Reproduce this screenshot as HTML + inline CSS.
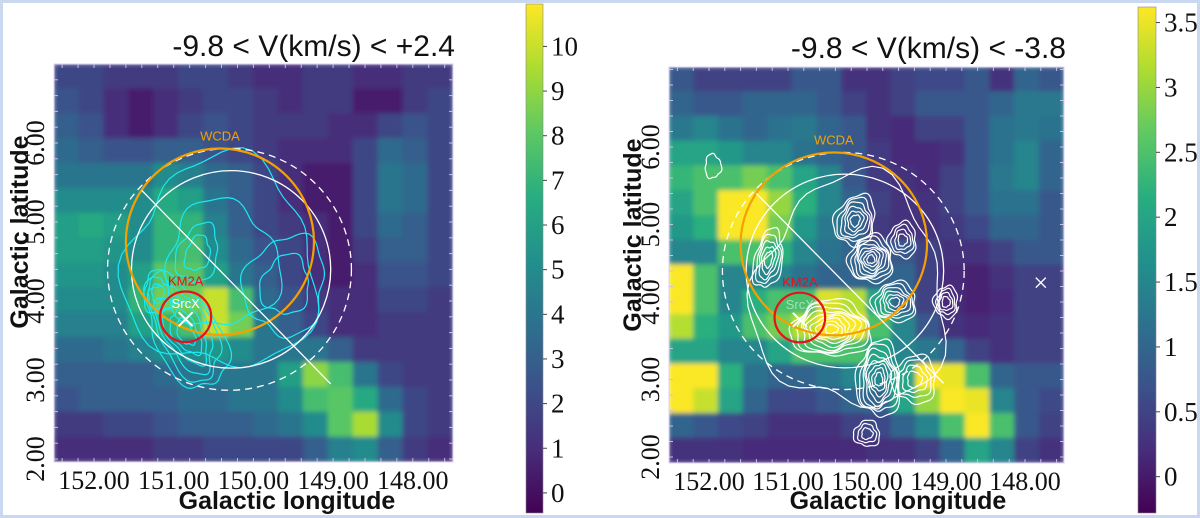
<!DOCTYPE html>
<html><head><meta charset="utf-8">
<style>
html,body{margin:0;padding:0;}
body{width:1200px;height:518px;overflow:hidden;background:#fff;}
svg{display:block;}
</style></head>
<body>
<svg id="fig" width="1200" height="518" viewBox="0 0 1200 518">
<defs>
<filter id="soft" x="0" y="0" width="1" height="1"><feGaussianBlur stdDeviation="2.5" edgeMode="duplicate"/></filter>
<clipPath id="clipL"><rect x="54" y="64" width="399" height="398"/></clipPath>
<clipPath id="clipR"><rect x="669" y="67" width="395" height="396"/></clipPath>
<linearGradient id="vir" x1="0" y1="1" x2="0" y2="0">
<stop offset="0" stop-color="#440154"/><stop offset="0.125" stop-color="#472d7b"/><stop offset="0.25" stop-color="#3b528b"/><stop offset="0.375" stop-color="#2c728e"/><stop offset="0.5" stop-color="#21918c"/><stop offset="0.625" stop-color="#28ae80"/><stop offset="0.75" stop-color="#5ec962"/><stop offset="0.875" stop-color="#addc30"/><stop offset="1" stop-color="#fde725"/>
</linearGradient>
</defs>
<rect x="0" y="0" width="1200" height="518" fill="none" stroke="#c9d8ee" stroke-width="6"/>
<g id="L"></g>
<g id="R"></g>
</svg>
<script>
const leftGrid = [
[2,2,1.5,1.5,1.5,2,2,1.5,1,1,1.5,1.5,1,1,1.5,1.5],
[2.5,2,1,0.5,1,1.5,2,2,1.5,1,1.5,1.5,0.5,0.5,1.5,2],
[3,2.5,1,0.5,1,2,2.5,2,1.5,1.5,1.5,1,1,2,2.5,2],
[3.5,3,2.5,2.5,3,3,2.5,2,1.5,1,1,1,2,3.5,3,2],
[4,4,4,4,5,4.5,3.5,3,2,1,0.5,0.5,2,4,3.5,2],
[5,5,5,5,6.5,6,4,3,2,1,0.5,0.5,2,4,3.5,2],
[6,6.5,6,5,7,7,4.5,3,2,1.5,1,0.5,2,3.5,3,2],
[6,6,5.5,5,7,7.5,5,3.5,2.5,2,1,0.5,1.5,3,3,2],
[5.5,5.5,5,6,8,8,6,4,3,2,1,0.5,1,2.5,2.5,2],
[5,5,5,7,8.5,8.5,10,7.5,3.5,2.5,1.5,1,1,2,2,1.5],
[4.5,4.5,4.5,6,7,7.5,10,8.5,4,3,2,1,1,1.5,1.5,1.5],
[3.5,3.5,4,4.5,5,5,5.5,5,4,4,4,3,1.5,1.5,1.5,1.5],
[3,3,3,3,3.5,4,4,4,4,6,9,7.5,4,2,1.5,1.5],
[2.5,3,3,3,3,3.5,3.5,4,4,5,7.5,8,6.5,3.5,2,1.5],
[1.5,1.5,2,2,2.5,3,3,3,3.5,4,5,8,9.5,5,2,1.5],
[1,1,1,1,1.5,1.5,2,2,2,2,3,4.5,5,3,1.5,1]];
const rightGrid = [
[0.8,0.5,0.5,0.5,0.5,0.8,0.8,0.3,0.3,0.5,0.6,0.6,0.8,0.3,1,0.8],
[1,0.8,0.8,1,1,1,0.8,0.5,0.3,0.5,0.8,0.8,0.8,1,1.3,1.3],
[1.3,1.5,1.2,1,1.2,1.3,1,0.8,0.3,0.2,0.5,0.5,0.8,1.2,1.3,1.2],
[2,2,1.8,1.5,1.5,1.2,1,0.8,0.4,0.2,0.2,0.3,0.8,1.2,1.5,1],
[2.3,2.5,2.5,2.8,2.5,2,1.5,0.8,0.4,0.3,0.2,0.5,0.8,1.3,1.5,1],
[2,2.5,3.6,3.6,3,2.2,1.5,1,0.5,0.3,0.3,0.5,0.8,1.2,1.2,0.8],
[1.8,2.2,3.6,3.6,2.8,1.8,1.3,1,0.4,0.3,0.3,0.4,0.6,1,1,0.8],
[1.5,1.5,2.5,2.5,2.2,1.5,1.2,1,0.8,0.8,0.5,0.3,0.3,0.5,0.8,0.8],
[3.6,2.5,1.5,1.5,1.5,1.2,1,1,1,1,0.5,0.2,0.1,0.3,0.5,0.5],
[3.6,2.5,1.5,2.2,2.5,2.5,3.4,3.2,2,1,0.5,0.2,0.1,0.2,0.5,0.5],
[3.2,2.2,1.8,2.5,2.8,3.2,3.6,3.6,2.5,1.5,0.8,0.3,0.2,0.3,0.5,0.5],
[2,2,1.5,1.5,2,2.5,2.5,2.5,2,1.5,1.3,1,0.5,0.3,0.5,0.5],
[3.6,3.6,2.2,1.2,1,1,1.2,1.5,1.5,2,3.6,3.5,2.5,1,0.8,0.8],
[3.6,3.3,2,1,0.6,0.6,0.8,1,1,2,3,3.6,3.5,1.5,0.8,0.6],
[1,0.8,0.6,0.5,0.3,0.3,0.3,0.5,0.6,1,1.5,2.5,3.6,2.5,0.8,0.5],
[0.3,0.3,0.3,0.2,0.2,0.2,0.2,0.2,0.3,0.3,0.5,1,2,1.5,0.5,0.3]];
const lonTicks = [152,151,150,149,148];
const latTicks = [6,5,4,3,2];
const leftCbTicks = [0,1,2,3,4,5,6,7,8,9,10];
const rightCbTicks = [0,0.5,1,1.5,2,2.5,3,3.5];
const leftTitle = "-9.8 < V(km/s) < +2.4";
const rightTitle = "-9.8 < V(km/s) < -3.8";
const wcda = [150.42, 4.75, 1.18];
const km2a = [150.85, 3.80, 0.32];
const innerC = [150.28, 4.40, 1.25];
const outerC = [150.30, 4.40, 1.53];
const srcX = [150.85, 3.77];
const extraX = [147.8, 4.25];
const diag = [[151.4,5.4],[149.03,2.95]];

const SERIF='"Liberation Serif","DejaVu Serif",serif';
const SANS='"Liberation Sans","DejaVu Sans",sans-serif';
const NS="http://www.w3.org/2000/svg";
const vir=[[68,1,84],[71,44,122],[59,81,139],[44,113,142],[33,144,140],[39,173,129],[92,200,99],[170,220,50],[253,231,37]];
function cmap(t){t=Math.max(0,Math.min(1,t));const f=t*8,i=Math.min(7,Math.floor(f)),u=f-i;const a=vir[i],b=vir[i+1];
return `rgb(${a.map((c,k)=>Math.round(c+(b[k]-c)*u)).join(',')})`;}
function el(p,tag,attrs){const e=document.createElementNS(NS,tag);for(const k in attrs)e.setAttribute(k,attrs[k]);p.appendChild(e);return e;}
const TK={'font-family':SERIF,'font-size':26,fill:'#111'};
const AX={'font-family':SANS,'font-weight':'bold','font-size':25,fill:'#111'};

function panel(g,o){
  const X=lon=>o.x0+(152-lon)*o.px, Y=lat=>o.y6+(6-lat)*o.py;
  const hm=el(g,'g',{'clip-path':o.clip});
  
  
  const inner=el(hm,'g',{filter:'url(#soft)'});
  const n=o.grid.length,cw=o.w/n,ch=o.h/n;
  o.grid.forEach((row,r)=>row.forEach((v,c)=>{
    const rc=el(inner,'rect',{x:o.L+c*cw-0.5,y:o.T+r*ch-0.5,width:cw+1,height:ch+1,fill:cmap((v-o.vmin)/(o.vmax-o.vmin))});
    
    
  }));
  const cg=el(hm,'g',{fill:'none',stroke:o.cc,'stroke-width':1.2});
  
  
  o.contours.forEach(([lx,ly,rx,ry,k,rot])=>{
    for(let j=0;j<k;j++){const s=1-j/(k+0.5);let d='';
      for(let a=0;a<=64;a++){const th=a/64*2*Math.PI;const w=1+0.1*Math.sin(3*th+j+lx)+0.05*Math.sin(7*th+ly);
        const px=rx*s*w*Math.cos(th),py=ry*s*w*Math.sin(th);const cr=Math.cos(rot),sr=Math.sin(rot);
        d+=(a?'L':'M')+(X(lx)+px*cr-py*sr).toFixed(1)+','+(Y(ly)+px*sr+py*cr).toFixed(1);}
      el(cg,'path',{d:d+'Z'});}
  });
  const circ=(c,attrs,name)=>{const e=el(hm,'ellipse',Object.assign({cx:X(c[0]),cy:Y(c[1]),rx:c[2]*o.px,ry:c[2]*o.py,fill:'none'},attrs));
    };
  circ(outerC,{stroke:'#fff','stroke-width':1.3,'stroke-dasharray':'7,5'},'outer-dashed-circle');
  circ(innerC,{stroke:'#fff','stroke-width':1.3},'inner-circle');
  circ(wcda,{stroke:'#f5a000','stroke-width':2.2},'wcda-circle');
  circ(km2a,{stroke:'#e8101a','stroke-width':2.2},'km2a-circle');
  const ln=el(hm,'line',{x1:X(diag[0][0]),y1:Y(diag[0][1]),x2:X(diag[1][0]),y2:Y(diag[1][1]),stroke:'#fff','stroke-width':1.3});
  
  const cross=(p,s,w,name)=>{const gx=el(hm,'path',{d:`M${X(p[0])-s},${Y(p[1])-s}L${X(p[0])+s},${Y(p[1])+s}M${X(p[0])-s},${Y(p[1])+s}L${X(p[0])+s},${Y(p[1])-s}`,stroke:'#fff','stroke-width':w});
    };
  cross(srcX,7,2,'srcx-marker');
  if(o.extra)cross(extraX,5,1.3,'extra-marker');
  const LB={'font-family':SANS,'font-size':13,'text-anchor':'middle'};
  const t1=el(hm,'text',Object.assign({x:X(wcda[0]),y:Y(wcda[1]+wcda[2])-8,fill:'#f5a000'},LB));t1.textContent='WCDA';
  
  const t2=el(hm,'text',Object.assign({x:X(km2a[0]),y:Y(km2a[1]+km2a[2])-6,fill:'#e8101a'},LB));t2.textContent='KM2A';
  
  const t3=el(hm,'text',Object.assign({x:X(srcX[0]),y:Y(srcX[1])-11,fill:'#fff',opacity:o.extra?0.5:1},LB));t3.textContent='SrcX';
  
  const tg=el(g,'g',{stroke:'#c8c0e0','stroke-width':1});
  
  for(let v=152.4;v>147.5;v-=0.2){const x=X(v);if(x<o.L||x>o.L+o.w)continue;el(tg,'line',{x1:x,y1:o.T,x2:x,y2:o.T+4});el(tg,'line',{x1:x,y1:o.T+o.h,x2:x,y2:o.T+o.h-4});}
  for(let v=7;v>1.9;v-=0.2){const y=Y(v);if(y<o.T||y>o.T+o.h)continue;el(tg,'line',{x1:o.L,y1:y,x2:o.L+4,y2:y});el(tg,'line',{x1:o.L+o.w,y1:y,x2:o.L+o.w-4,y2:y});}
  el(g,'rect',{x:o.L,y:o.T,width:o.w,height:o.h,fill:'none',stroke:'#d8d0ee','stroke-width':1});
  lonTicks.forEach(v=>{const t=el(g,'text',Object.assign({x:X(v),y:o.T+o.h+27,'text-anchor':'middle'},TK));t.textContent=v.toFixed(2);
    });
  latTicks.forEach(v=>{const t=el(g,'text',Object.assign({x:0,y:0,'text-anchor':'middle',transform:`translate(${o.ylx},${Y(v)}) rotate(-90)`},TK));t.textContent=v.toFixed(2);
    });
  const xa=el(g,'text',Object.assign({x:o.xax,y:509,'text-anchor':'middle'},AX));xa.textContent='Galactic longitude';
  
  const ya=el(g,'text',Object.assign({x:0,y:0,'text-anchor':'middle',transform:`translate(${o.yax},${o.yay}) rotate(-90)`},AX));ya.textContent='Galactic latitude';
  
  const ti=el(g,'text',{x:o.L+o.w+2,y:o.tiy,'text-anchor':'end','font-family':SANS,'font-size':30,fill:'#111'});ti.textContent=o.title;
  
  const cb=el(g,'rect',{x:o.cbx,y:o.cbt,width:o.cbw,height:o.cbb-o.cbt,fill:'url(#vir)',stroke:'#888','stroke-width':0.6});
  
  const CY=v=>o.cbb-(v-o.vmin)/(o.vmax-o.vmin)*(o.cbb-o.cbt);
  o.cbTicks.forEach(v=>{el(g,'line',{x1:o.cbx+o.cbw,y1:CY(v),x2:o.cbx+o.cbw+4,y2:CY(v),stroke:'#444'});
    const t=el(g,'text',{x:o.cbx+o.cbw+8,y:CY(v)+9,'font-family':SERIF,'font-size':27,fill:'#111'});t.textContent=String(v);
    });
}
panel(document.getElementById('L'),{grid:leftGrid,L:54,T:64,w:399,h:398,x0:94,px:79.7,y6:143,py:79,clip:'url(#clipL)',
  vmin:-0.45,vmax:10.95,cc:'#1ee8f0',title:leftTitle,tiy:56,ylx:44,xax:287,yax:28,yay:232,
  cbx:526,cbw:17,cbt:4,cbb:513,cbTicks:leftCbTicks,extra:false,
  contours:[[150.4,4.45,95,105,2,0],[150.85,3.6,32,62,6,-0.5],[151.2,4.1,14,22,3,0],[150.7,4.6,20,30,2,0.3],[149.6,4.2,40,50,2,0.2]]});
panel(document.getElementById('R'),{grid:rightGrid,L:669,T:67,w:395,h:396,x0:709,px:79,y6:147,py:77.5,clip:'url(#clipR)',
  vmin:-0.28,vmax:3.62,cc:'#fff',title:rightTitle,tiy:58,ylx:659,xax:898,yax:641,yay:235,
  cbx:1138,cbw:18,cbt:7,cbb:513,cbTicks:rightCbTicks,extra:true,
  contours:[[150.15,5.05,20,26,6,0.3],[149.95,4.55,22,24,8,0],[149.55,4.8,14,18,4,0],[149.65,4.0,22,20,6,0],[149.0,4.0,12,16,4,0],[150.45,3.65,40,28,9,0],[151.25,4.55,14,30,5,0.2],[149.85,3.0,22,38,8,0],[149.4,3.0,22,24,4,0],[150.0,2.3,13,13,3,0],[151.95,5.75,8,12,1,0],[150.2,4.1,95,115,1,0]]});
</script>
</body></html>
